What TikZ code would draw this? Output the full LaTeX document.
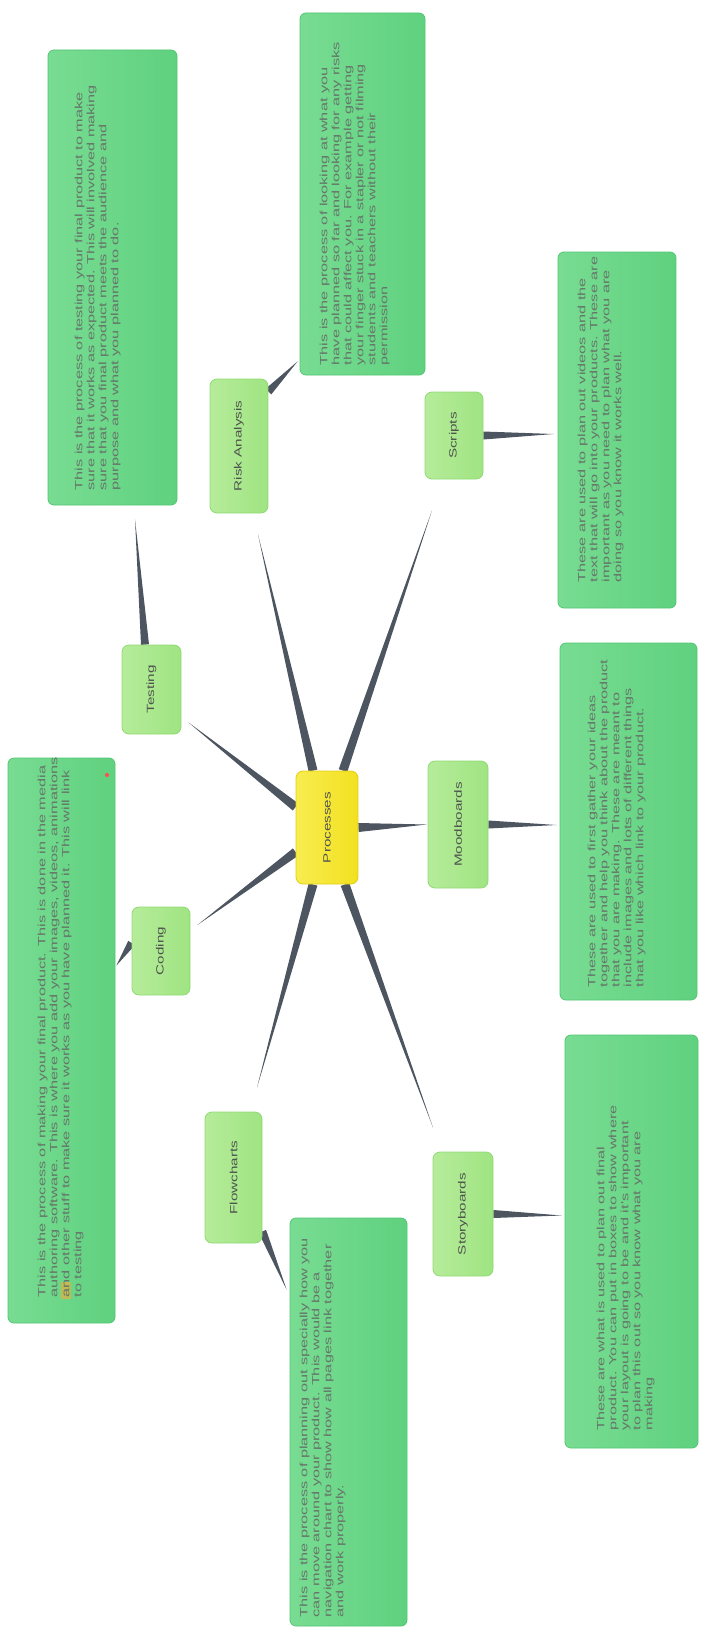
\documentclass[tikz,border=0pt]{standalone}
\usepackage{fontspec}
\setmainfont{Liberation Sans}
\newfontfamily\descfont[FakeStretch=1.55]{Liberation Sans}
\newfontfamily\labfont[FakeStretch=1.45]{Liberation Sans}
\usetikzlibrary{calc,backgrounds}
\definecolor{conn}{HTML}{4D5560}
\definecolor{descfill}{HTML}{5FD17F}
\definecolor{descfillL}{HTML}{78DC92}
\definecolor{descline}{HTML}{52C672}
\definecolor{desctext}{HTML}{66766A}
\definecolor{kidfill}{HTML}{9FE482}
\definecolor{kidfillL}{HTML}{B6EC9A}
\definecolor{kidline}{HTML}{90DA74}
\definecolor{kidtext}{HTML}{4E544E}
\definecolor{procfill}{HTML}{F2E120}
\definecolor{procfillL}{HTML}{F8EC50}
\definecolor{procline}{HTML}{E2CE14}
\definecolor{hilite}{HTML}{E8B040}
\newcommand\taper[3]{\fill[conn] ($#1!#3!90:#2$) -- #2 -- ($#1!#3!-90:#2$) -- cycle;}
\tikzset{
  descbox/.style={draw=descline, line width=0.8pt, rounded corners=6pt,
    left color=descfillL, right color=descfill, inner sep=0pt},
  desctxt/.style={rotate=90, anchor=north west, inner sep=0pt, align=left,
    text=desctext, font=\descfont\fontsize{10.5}{12}\selectfont},
  kid/.style={draw=kidline, line width=0.8pt, rounded corners=7pt,
    left color=kidfillL, right color=kidfill, inner sep=0pt, text=kidtext,
    font=\labfont\fontsize{10.5}{12}\selectfont},
  procbox/.style={draw=procline, line width=0.8pt, rounded corners=7pt,
    left color=procfillL, right color=procfill, inner sep=0pt, text=kidtext,
    font=\labfont\fontsize{10.5}{12}\selectfont},
}
\begin{document}
\begin{tikzpicture}[x=1pt,y=-1pt]
\useasboundingbox (0,0) rectangle (701,1632);
% central node
\node[procbox, minimum width=62pt, minimum height=113pt] (proc) at (327,827.5) {\rotatebox{90}{Processes}};
% children
\node[kid, minimum width=59pt, minimum height=89pt] (test) at (151.5,689.5) {\rotatebox{90}{Testing}};
\node[kid, minimum width=58pt, minimum height=88pt] (cod) at (161,951) {\rotatebox{90}{Coding}};
\node[kid, minimum width=58pt, minimum height=134pt] (risk) at (239,446) {\rotatebox{90}{Risk Analysis}};
\node[kid, minimum width=58pt, minimum height=87pt] (scr) at (454,435.5) {\rotatebox{90}{Scripts}};
\node[kid, minimum width=60pt, minimum height=127pt] (mood) at (458,824.5) {\rotatebox{90}{Moodboards}};
\node[kid, minimum width=60pt, minimum height=124pt] (story) at (463,1214) {\rotatebox{90}{Storyboards}};
\node[kid, minimum width=57pt, minimum height=131pt] (flow) at (233.5,1177.5) {\rotatebox{90}{Flowcharts}};
% description boxes
\node[descbox, minimum width=107pt, minimum height=565pt] (codd) at (61.5,1040.5) {};
\fill[hilite, opacity=0.7] (61,1282) rectangle (71,1299);
\fill[red!70!white] (107,775) circle (2pt);
\node[desctxt] (coddt) at ($(codd.south west)+(30,-26)$) {This is the process of making your final product. This is done in the media\\authoring software. This is where you add your images, videos, animations\\and other stuff to make sure it works as you have planned it. This will link\\to testing};
\node[descbox, minimum width=129pt, minimum height=455pt] (testd) at (112.5,277.5) {};
\node[desctxt] (testdt) at ($(testd.south west)+(27,-15)$) {This is the process of testing your final product to make\\sure that it works as expected. This will involved making\\sure that you final product meets the audience and\\purpose and what you planned to do.};
\node[descbox, minimum width=125pt, minimum height=362pt] (riskd) at (362.5,194) {};
\node[desctxt] (riskdt) at ($(riskd.south west)+(20,-10)$) {This is the process of looking at what you\\have planned so far and looking for any risks\\that could affect you. For example getting\\your finger stuck in a stapler or not filming\\students and teachers without their\\permission};
\node[descbox, minimum width=118pt, minimum height=356pt] (scrd) at (617,430) {};
\node[desctxt] (scrdt) at ($(scrd.south west)+(20,-26)$) {These are used to plan out videos and the\\text that will go into your products. These are\\important as you need to plan what you are\\doing so you know it works well.};
\node[descbox, minimum width=137pt, minimum height=357pt] (moodd) at (628.5,821.5) {};
\node[desctxt] (mooddt) at ($(moodd.south west)+(28,-13)$) {These are used to first gather your ideas\\together and help you think about the product\\that you are making. These are meant to\\include images and lots of different things\\that you like which link to your product.};
\node[descbox, minimum width=133pt, minimum height=413pt] (storyd) at (631.5,1241.5) {};
\node[desctxt] (storydt) at ($(storyd.south west)+(32,-18)$) {These are what is used to plan out final\\product. You can put in boxes to show where\\your layout is going to be and it's important\\to plan this out so you know what you are\\making};
\node[descbox, minimum width=117pt, minimum height=408pt] (flowd) at (348.5,1422) {};
\node[desctxt] (flowdt) at ($(flowd.south west)+(10,-9)$) {This is the process of planning out specially how you\\can move around your product. This would be a\\navigation chart to show how all pages link together\\and work properly.};
% connectors
\begin{scope}[on background layer]
\coordinate (a1) at ($(proc.west)+(0,-20.5)$);  \coordinate (b1) at ($(test.south east)+(7,-12)$);
\coordinate (a2) at ($(proc.north)+(-14,0)$);   \coordinate (b2) at ($(risk.south)+(19,21)$);
\coordinate (a3) at ($(proc.north)+(16,0)$);    \coordinate (b3) at ($(scr.south)+(-22,31)$);
\coordinate (a4) at (proc.east);                \coordinate (b4) at ($(mood.west)+(-1,0)$);
\coordinate (a5) at ($(proc.south)+(18,0)$);    \coordinate (b5) at ($(story.north)+(-30,-24)$);
\coordinate (a6) at ($(proc.south)+(-14,0)$);   \coordinate (b6) at ($(flow.north)+(23.5,-24)$);
\coordinate (a7) at ($(proc.west)+(0,24.5)$);   \coordinate (b7) at ($(cod.east)+(7,-26)$);
\taper{(a1)}{(b1)}{4.5pt}
\taper{(a2)}{(b2)}{4.5pt}
\taper{(a3)}{(b3)}{4.5pt}
\taper{(a4)}{(b4)}{4.5pt}
\taper{(a5)}{(b5)}{4.5pt}
\taper{(a6)}{(b6)}{4.5pt}
\taper{(a7)}{(b7)}{4.5pt}
\coordinate (c1) at ($(test.north)+(-6.5,0)$);  \coordinate (d1) at ($(testd.south)+(22.5,14)$);
\coordinate (c2) at ($(cod.west)+(0,-8)$);      \coordinate (d2) at ($(codd.east)+(1,-75)$);
\coordinate (c3) at ($(risk.north east)+(0,13)$); \coordinate (d3) at ($(riskd.south west)+(-2,-14)$);
\coordinate (c4) at (scr.east);                 \coordinate (d4) at ($(scrd.west)+(-4,4)$);
\coordinate (c5) at (mood.east);                \coordinate (d5) at ($(moodd.west)+(-3,3.5)$);
\coordinate (c6) at (story.east);               \coordinate (d6) at ($(storyd.west)+(-3,-26)$);
\coordinate (c7) at ($(flow.south east)+(0,-12)$); \coordinate (d7) at ($(flowd.north west)+(-3,72)$);
\taper{(c1)}{(d1)}{4pt}
\taper{(c2)}{(d2)}{4pt}
\taper{(c3)}{(d3)}{4pt}
\taper{(c4)}{(d4)}{4pt}
\taper{(c5)}{(d5)}{4pt}
\taper{(c6)}{(d6)}{4pt}
\taper{(c7)}{(d7)}{4pt}
\end{scope}
\end{tikzpicture}
\end{document}
